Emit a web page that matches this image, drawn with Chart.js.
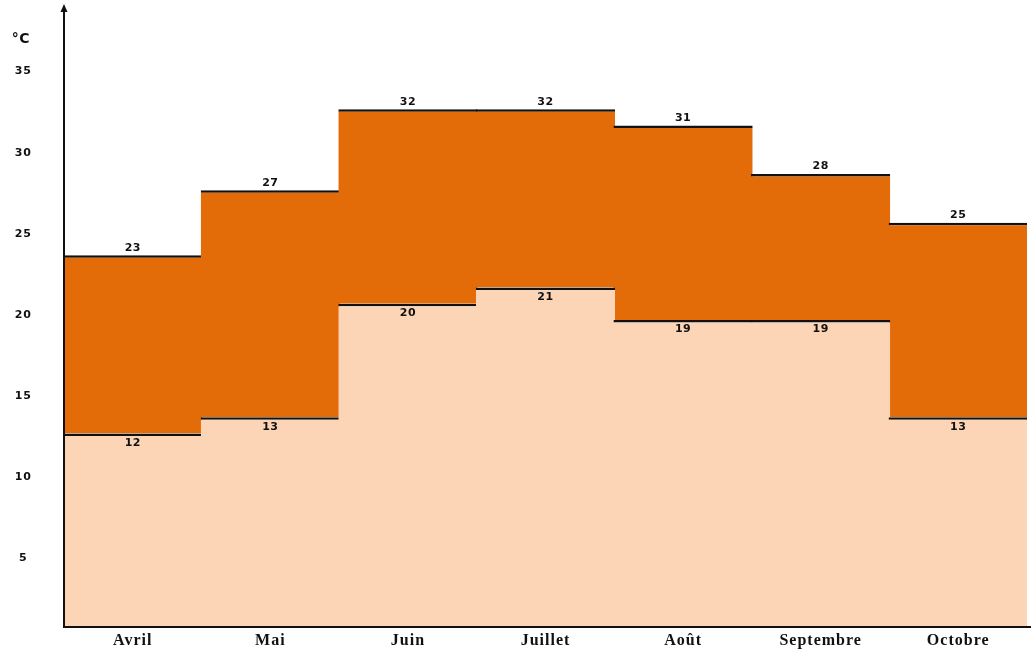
<!DOCTYPE html>
<html>
<head>
<meta charset="utf-8">
<script src="https://cdn.jsdelivr.net/npm/chart.js@4"></script>
<style>
  html, body { margin: 0; padding: 0; background: #fff; }
  #wrap { width: 1031px; height: 649px; }
</style>
</head>
<body>
<div id="wrap"><canvas id="chart" width="1031" height="649"></canvas></div>
<script>
// ------------------ DATA ------------------
const months = ["Avril", "Mai", "Juin", "Juillet", "Août", "Septembre", "Octobre"];
const lowTemps = [12, 13, 20, 21, 19, 19, 13];
const highTemps = [23, 27, 32, 32, 31, 28, 25];
const yTicks = [5, 10, 15, 20, 25, 30, 35];
const unitLabel = "°C";

const ORANGE = "#E36C09";
const PEACH = "#FBD5B5";

// ------------------ PLUGINS ------------------
// the source picture is stretched sideways, so widen the text a little
const spacing = {
  id: "spacing",
  beforeDraw(chart) { chart.ctx.letterSpacing = "1px"; },
  beforeDatasetsDraw(chart) { chart.ctx.letterSpacing = "0.5px"; }
};

const axesPlugin = {
  id: "axes",
  afterDatasetsDraw(chart) {
    const c = chart.ctx;
    const a = chart.chartArea;
    c.save();
    c.strokeStyle = "#111";
    c.lineWidth = 2;
    // y axis with arrow
    c.beginPath();
    c.moveTo(a.left, a.bottom);
    c.lineTo(a.left, 10);
    c.stroke();
    c.fillStyle = "#111";
    c.beginPath();
    c.moveTo(a.left, 4);
    c.lineTo(a.left - 3.5, 12);
    c.lineTo(a.left + 3.5, 12);
    c.closePath();
    c.fill();
    // x axis
    c.beginPath();
    c.moveTo(a.left, a.bottom - 1);
    c.lineTo(chart.width, a.bottom - 1);
    c.stroke();
    // unit
    c.font = "bold 14px 'DejaVu Sans'";
    c.textAlign = "center";
    c.textBaseline = "middle";
    c.fillText(unitLabel, 21, 39);
    c.restore();
  }
};

const valueLabels = {
  id: "valueLabels",
  afterDatasetsDraw(chart) {
    const c = chart.ctx;
    c.save();
    c.font = "bold 11px 'DejaVu Sans'";
    c.fillStyle = "#111";
    c.textAlign = "center";
    chart.getDatasetMeta(0).data.forEach((bar, i) => {
      c.textBaseline = "top";
      c.fillText(lowTemps[i], bar.x, bar.y + 4);
    });
    chart.getDatasetMeta(1).data.forEach((bar, i) => {
      c.textBaseline = "bottom";
      c.fillText(highTemps[i], bar.x, bar.y - 2);
    });
    c.restore();
  }
};

// ------------------ CHART ------------------
const barStyle = {
  borderColor: "#111",
  borderWidth: { top: 2.5, right: 0, bottom: 0, left: 0 },
  borderSkipped: false,
  inflateAmount: 0,
  grouped: false,
  barPercentage: 1.012,
  categoryPercentage: 1
};

new Chart(document.getElementById("chart"), {
  type: "bar",
  data: {
    labels: months,
    datasets: [
      Object.assign({ label: "Min", data: lowTemps, backgroundColor: PEACH }, barStyle),
      Object.assign({
        label: "Max",
        data: highTemps.map((h, i) => [lowTemps[i], h]),
        backgroundColor: ORANGE
      }, barStyle)
    ]
  },
  options: {
    responsive: false,
    animation: false,
    layout: { padding: { top: 12, right: 4, bottom: 0, left: 0 } },
    plugins: {
      legend: { display: false },
      tooltip: { enabled: false }
    },
    scales: {
      x: {
        afterFit(scale) {
          scale.height = 21;
          scale.paddingLeft = 0;
          scale.paddingRight = 0;
        },
        grid: { display: false, drawTicks: false },
        border: { display: false },
        ticks: {
          padding: 3,
          color: "#111",
          font: { family: "'Liberation Serif'", size: 16, weight: "bold" }
        }
      },
      y: {
        min: 0,
        max: 38,
        afterFit(scale) {
          scale.width = 64;
          scale.paddingTop = 0;
          scale.paddingBottom = 0;
        },
        afterBuildTicks(scale) {
          scale.ticks = yTicks.map(v => ({ value: v }));
        },
        grid: { display: false, drawTicks: false },
        border: { display: false },
        ticks: {
          padding: 33,
          crossAlign: "center",
          labelOffset: 11,
          color: "#111",
          font: { family: "'DejaVu Sans'", size: 11, weight: "bold" }
        }
      }
    }
  },
  plugins: [spacing, axesPlugin, valueLabels]
});
</script>
</body>
</html>
